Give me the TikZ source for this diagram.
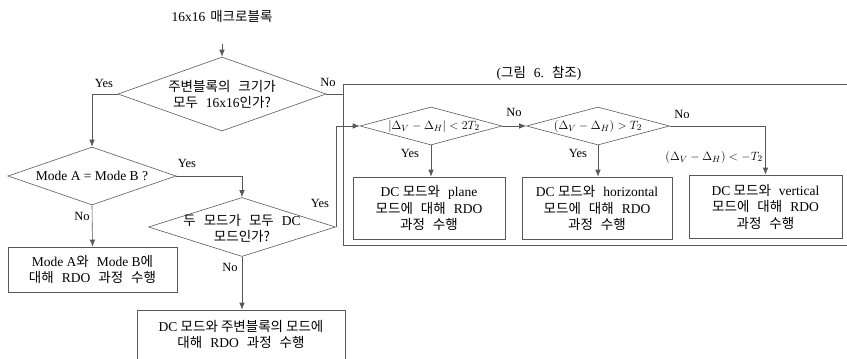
\documentclass[tikz,border=0pt]{standalone}
\usepackage{fontspec}
\setmainfont{Liberation Serif}
\newfontfamily\kr{Noto Sans CJK KR}
\usetikzlibrary{shapes.geometric,arrows.meta}
\newcommand{\KS}{\hspace{8pt}}
\begin{document}
\begin{tikzpicture}[x=1pt,y=-1pt,
  ln/.style={draw=black!65, line width=0.6pt},
  arr/.style={ln,-{Latex[length=7pt,width=5.5pt]}},
  dia/.style={diamond, ln, inner sep=0pt},
  box/.style={rectangle, ln, inner sep=0pt, align=center, font=\fontsize{13.5}{16.5}\selectfont},
  txt/.style={align=center, inner sep=0pt, font=\fontsize{13.5}{16}\selectfont},
  mth/.style={inner sep=0pt, font=\fontsize{12.5}{14}\selectfont},
  lab/.style={inner sep=0pt, font=\fontsize{12.5}{14}\selectfont}]
\useasboundingbox (0,0) rectangle (847,359);

% group frame (figure 6)
\node[rectangle, ln, minimum width=509pt, minimum height=161pt] (g) at (597.5,164.5) {};
\node[txt, fill=white, inner sep=1pt] (gl) at (539,73) {({\kr 그림}\KS 6.\KS{\kr 참조})};

% start text
\node[txt] (t0) at (222,16) {16x16\hspace{5pt}{\kr 매크로블록}};

% diamonds
\node[dia, minimum width=208pt, minimum height=74pt] (d1) at (222,94) {};
\node[txt] (d1t) at (222,94) {{\kr 주변블록의}\KS{\kr 크기가}\\{\kr 모두}\KS 16x16{\kr 인가?}};

\node[dia, minimum width=168pt, minimum height=58pt] (d2) at (92,176) {};
\node[txt] (d2t) at (92,176) {Mode A = Mode B ?};

\node[dia, minimum width=187pt, minimum height=59pt] (d3) at (242,227) {};
\node[txt] (d3t) at (242,228) {{\kr 두}\KS{\kr 모드가}\KS{\kr 모두}\KS DC\\{\kr 모드인가?}};

\node[dia, minimum width=142pt, minimum height=38pt] (d4) at (431,126) {};
\node[mth] (d4t) at (434,126) {$\left|\Delta_V-\Delta_H\right|<2T_2$};

\node[dia, minimum width=143pt, minimum height=38pt] (d5) at (598,126) {};
\node[mth] (d5t) at (598,126) {$(\Delta_V-\Delta_H)>T_2$};

% boxes
\node[box, minimum width=169pt, minimum height=45pt] (b1) at (92.5,269.5)
  {Mode A{\kr 와}\KS Mode B{\kr 에}\\{\kr 대해}\KS RDO\KS{\kr 과정}\KS{\kr 수행}};
\node[rectangle, ln, minimum width=208pt, minimum height=60pt] (b2) at (241,340) {};
\node[txt] (b2t) at (241,334) {DC {\kr 모드와 주변블록의 모드에}\\{\kr 대해}\KS RDO\KS{\kr 과정}\KS{\kr 수행}};

\node[box, minimum width=152pt, minimum height=62pt] (b3) at (429,208)
  {DC {\kr 모드와}\KS plane\\{\kr 모드에}\KS{\kr 대해}\KS RDO\\{\kr 과정}\KS{\kr 수행}};
\node[box, minimum width=150pt, minimum height=62pt] (b4) at (597,208)
  {DC {\kr 모드와}\KS horizontal\\{\kr 모드에}\KS{\kr 대해}\KS RDO\\{\kr 과정}\KS{\kr 수행}};
\node[box, minimum width=153pt, minimum height=63pt] (b5) at (765.5,206.5)
  {DC {\kr 모드와}\KS vertical\\{\kr 모드에}\KS{\kr 대해}\KS RDO\\{\kr 과정}\KS{\kr 수행}};

% connectors
\coordinate (j) at (343,126);
\draw[arr, shorten <=22pt] (t0.south) -- (d1.north);
\draw[arr] (d1.west) -| (d2.north);
\draw[ln] (d1.east) -| (j);
\draw[arr] (d2.east) -| (d3.north);
\draw[arr] (d2.south) -- (b1.north);
\draw[arr] (d3.south) -- (d3.south |- b2.north);
\draw[arr] (d3.east) |- (d4.west);
\draw[arr] (d4.east) -- (d5.west);
\draw[arr] (d4.south) -- (d4.south |- b3.north);
\draw[arr] (d5.south) -- (d5.south |- b4.north);
\draw[arr] (d5.east) -| (b5.north);

% branch labels
\node[lab] (y1) at (104,83) {Yes};
\node[lab] (n1) at (328,82) {No};
\node[lab] (y2) at (187,163) {Yes};
\node[lab] (n2) at (82,216) {No};
\node[lab] (y3) at (320,203) {Yes};
\node[lab] (n3) at (230,267) {No};
\node[lab] (n4) at (514,112) {No};
\node[lab] (y4) at (410,153) {Yes};
\node[lab] (y5) at (578,153) {Yes};
\node[lab] (n5) at (682,114) {No};
\node[mth, anchor=east] (c5) at (763,157) {$(\Delta_V-\Delta_H)<-T_2$};
\end{tikzpicture}
\end{document}
